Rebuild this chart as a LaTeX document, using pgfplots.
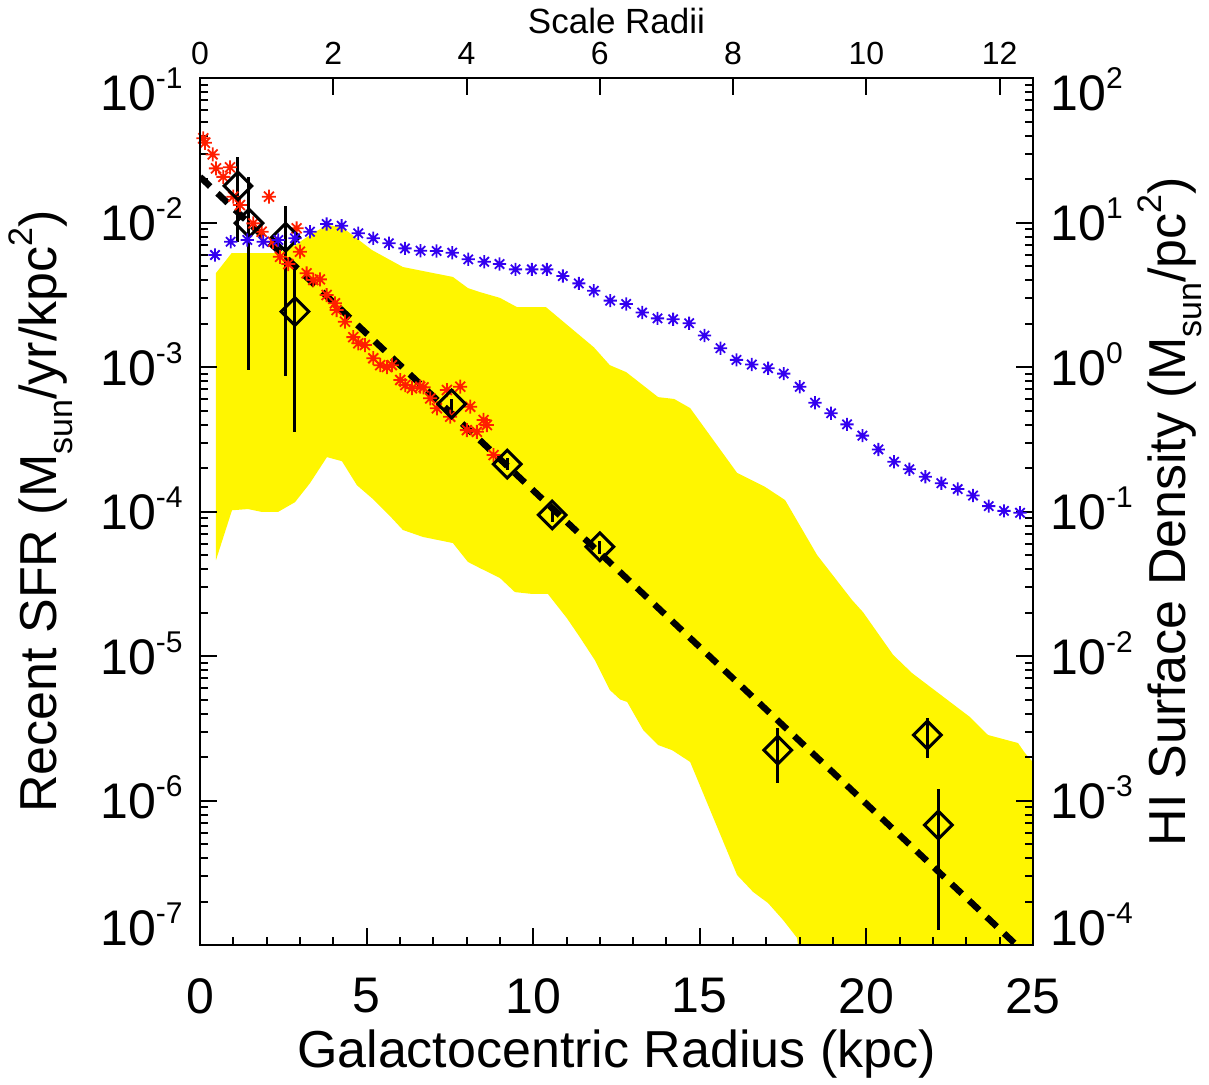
\documentclass[border=0pt]{standalone}
\usepackage{pgfplots}
\pgfplotsset{compat=1.18}
\usepackage{fontspec}
\setmainfont{Liberation Sans}
\definecolor{myred}{RGB}{255,30,0}
\definecolor{myblue}{RGB}{51,0,240}
\definecolor{myyellow}{RGB}{255,246,0}
\pgfdeclareplotmark{ast8}{%
  \pgfpathmoveto{\pgfqpoint{0pt}{\pgfplotmarksize}}\pgfpathlineto{\pgfqpoint{0pt}{-\pgfplotmarksize}}%
  \pgfpathmoveto{\pgfqpoint{\pgfplotmarksize}{0pt}}\pgfpathlineto{\pgfqpoint{-\pgfplotmarksize}{0pt}}%
  \pgfpathmoveto{\pgfqpoint{0.707\pgfplotmarksize}{0.707\pgfplotmarksize}}\pgfpathlineto{\pgfqpoint{-0.707\pgfplotmarksize}{-0.707\pgfplotmarksize}}%
  \pgfpathmoveto{\pgfqpoint{-0.707\pgfplotmarksize}{0.707\pgfplotmarksize}}\pgfpathlineto{\pgfqpoint{0.707\pgfplotmarksize}{-0.707\pgfplotmarksize}}%
  \pgfusepathqstroke}
\newcommand\TE[1]{10\raisebox{11pt}{\fontsize{15}{15}\selectfont #1}}
\newcommand\SUB[1]{\raisebox{-8pt}{\fontsize{17}{17}\selectfont #1}}
\newcommand\SUP[1]{\raisebox{12pt}{\fontsize{17}{17}\selectfont #1}}
\begin{document}
\begin{tikzpicture}
\begin{axis}[width=416.5pt, height=433.5pt, scale only axis,
  xmin=0, xmax=25, ymode=log, ymin=1e-7, ymax=1e-1, axis on top,
  axis line style={line width=1.3pt},
  major tick length=8.5pt, minor tick length=4pt,
  tick style={black, line width=1pt}, tick align=inside,
  /pgf/number format/assume math mode=true,
  xtick pos=bottom, ytick pos=left,
  xtick={0,5,10,15,20,25}, minor x tick num=4,
  xticklabel style={font=\fontsize{25}{25}\selectfont, inner sep=0pt, anchor=north, yshift=-16.5pt},
  ytick={1e-7,1e-6,1e-5,1e-4,1e-3,1e-2,1e-1},
  yticklabels={\raisebox{9pt}{\TE{-7}},\TE{-6},\TE{-5},\TE{-4},\TE{-3},\TE{-2},\raisebox{-7pt}{\TE{-1}}},
  yticklabel style={font=\fontsize{25}{25}\selectfont, anchor=base east, inner sep=0pt, xshift=-8.5pt, yshift=-9pt},
  xlabel={Galactocentric Radius (kpc)},
  xlabel style={font=\fontsize{26}{26}\selectfont, at={(axis description cs:0.5,0)}, anchor=base, yshift=-61pt, inner sep=0pt},
  ylabel={Recent SFR (M\SUB{sun}/yr/kpc\SUP{2})},
  ylabel style={font=\fontsize{26}{26}\selectfont, at={(axis description cs:-0.1717,0.5)}, anchor=base, inner sep=0pt},
]
% yellow band
\addplot[fill=myyellow, draw=none] coordinates {
(0.48,4.47e-3)(0.95,6.15e-3)(2.34,6.15e-3)(2.85,6.98e-3)(3.30,8.18e-3)(3.81,9.62e-3)(4.26,9.31e-3)
(5.16,6.45e-3)(6.09,4.92e-3)(7.59,4.20e-3)(8.04,3.52e-3)(8.40,3.30e-3)(9.00,3.01e-3)(9.51,2.60e-3)
(10.38,2.60e-3)(11.82,1.37e-3)(12.30,1.03e-3)(12.79,9.22e-4)(13.75,6.19e-4)(14.23,6.01e-4)(14.71,5.20e-4)
(16.12,1.85e-4)(16.96,1.48e-4)(17.56,1.20e-4)(18.52,5.00e-5)(19.57,2.44e-5)(19.90,2.01e-5)(20.80,1.02e-5)
(21.37,7.62e-6)(23.11,3.78e-6)(23.65,2.84e-6)(24.55,2.50e-6)(24.76,2.13e-6)(25.12,1.71e-6)
(25.12,5e-8)(18.10,5e-8)
(17.92,1.12e-7)(17.50,1.49e-7)(17.05,1.95e-7)(16.60,2.33e-7)(16.12,3.05e-7)(14.71,1.85e-6)(14.17,2.23e-6)
(13.75,2.42e-6)(13.30,3.08e-6)(12.82,4.81e-6)(12.61,5.0e-6)(12.30,5.82e-6)(11.85,9.37e-6)(11.40,1.35e-5)
(11.01,1.83e-5)(10.44,2.69e-5)(9.96,2.69e-5)(9.45,2.77e-5)(9.00,3.47e-5)(8.40,4.06e-5)(8.04,4.48e-5)
(7.59,6.05e-5)(6.69,6.67e-5)(6.09,7.45e-5)(5.70,9.31e-5)(5.19,1.22e-4)(4.71,1.52e-4)(4.26,2.23e-4)
(3.81,2.38e-4)(3.30,1.57e-4)(2.85,1.16e-4)(2.34,9.93e-5)(1.86,9.93e-5)(1.44,1.04e-4)(0.96,1.02e-4)
(0.48,4.61e-5)
};
% red asterisks
\addplot[only marks, mark=ast8, mark size=3.5pt, color=myred, mark options={line width=0.9pt}] coordinates {
(0.10,3.83e-2)(0.15,3.56e-2)(0.38,2.96e-2)(0.48,2.37e-2)(0.70,2.07e-2)(0.90,2.41e-2)(1.00,1.51e-2)
(1.20,1.32e-2)(1.60,9.86e-3)(1.85,8.63e-3)(2.07,1.51e-2)(2.19,7.36e-3)(2.40,5.79e-3)(2.65,5.16e-3)
(2.90,9.12e-3)(3.00,6.28e-3)(3.20,4.45e-3)(3.40,4.00e-3)(3.60,4.04e-3)(3.80,3.15e-3)(4.05,2.76e-3)
(4.10,2.48e-3)(4.35,2.06e-3)(4.60,1.61e-3)(4.75,1.46e-3)(4.95,1.42e-3)(5.20,1.15e-3)(5.41,1.03e-3)
(5.61,1.00e-3)(5.76,1.03e-3)(6.01,8.13e-4)(6.16,7.50e-4)(6.36,7.13e-4)(6.61,7.31e-4)(6.71,7.23e-4)
(6.91,6.07e-4)(7.11,5.18e-4)(7.41,6.93e-4)(7.51,4.53e-4)(7.81,7.31e-4)(8.01,3.66e-4)(8.11,5.31e-4)
(8.31,3.56e-4)(8.51,4.30e-4)(8.61,3.97e-4)(8.81,2.46e-4)
};
% exponential fit
\addplot[black, line width=3.2pt, dash pattern=on 7pt off 5pt] coordinates {(0,2.07e-2)(25,7.8e-8)};
% diamonds with error bars
\addplot[only marks, black, mark=square, mark size=4.9pt,
  mark options={rotate=45, line width=1.5pt, fill=none},
  error bars/.cd, y dir=both, y explicit, error mark=none,
  error bar style={line width=1.5pt}] coordinates {
(1.14,1.79e-2) += (0,1.05e-2) -= (0,1.06e-2)
(1.47,9.9e-3) += (0,1.08e-2) -= (0,8.95e-3)
(2.57,7.9e-3) += (0,5.2e-3) -= (0,7.03e-3)
(2.85,2.42e-3) += (0,2.83e-3) -= (0,2.065e-3)
(7.55,5.55e-4) += (0,5e-5) -= (0,5e-5)
(9.22,2.13e-4) += (0,2e-5) -= (0,2e-5)
(10.57,9.47e-5) += (0,1e-5) -= (0,1e-5)
(12.0,5.7e-5) += (0,6e-6) -= (0,6e-6)
(17.34,2.23e-6) += (0,9.3e-7) -= (0,9.1e-7)
(21.83,2.84e-6) += (0,8.7e-7) -= (0,8.8e-7)
(22.16,6.76e-7) += (0,5.3e-7) -= (0,5.49e-7)
};
\end{axis}
\begin{axis}[width=416.5pt, height=433.5pt, scale only axis,
  xmin=0, xmax=25, ymode=log, ymin=1e-4, ymax=1e2,
  axis line style={line width=1.3pt},
  major tick length=8.5pt, minor tick length=4pt,
  tick style={black, line width=1pt}, tick align=inside,
  xtick pos=top, ytick pos=right, xticklabel pos=top, yticklabel pos=right,
  xtick={0,4,8,12,16,20,24}, xticklabels={0,2,4,6,8,10,12}, minor x tick num=0,
  xticklabel style={font=\fontsize{16}{16}\selectfont, inner sep=0pt, anchor=south, yshift=6.5pt},
  xlabel={Scale Radii},
  xlabel style={font=\fontsize{17.5}{17.5}\selectfont, at={(axis description cs:0.5,1)}, anchor=base, yshift=22.5pt, inner sep=0pt},
  ytick={1e-4,1e-3,1e-2,1e-1,1e0,1e1,1e2},
  yticklabels={\raisebox{9pt}{\TE{-4}},\TE{-3},\TE{-2},\TE{-1},\TE{0},\TE{1},\raisebox{-7pt}{\TE{2}}},
  yticklabel style={font=\fontsize{25}{25}\selectfont, anchor=base west, inner sep=0pt, xshift=8.5pt, yshift=-9pt},
  ylabel={HI Surface Density (M\SUB{sun}/pc\SUP{2})},
  ylabel style={font=\fontsize{26}{26}\selectfont, at={(axis description cs:1.1825,0.5)}, anchor=base, inner sep=0pt},
]
\addplot[only marks, mark=ast8, mark size=3.3pt, color=myblue, mark options={line width=0.9pt}] coordinates {
(0.45,5.96)(0.92,7.36)(1.42,7.57)(1.90,7.36)(2.35,7.57)(2.85,7.78)(3.30,8.63)(3.80,9.77)(4.25,9.50)
(4.75,8.42)(5.20,7.78)(5.67,7.18)(6.15,6.62)(6.62,6.38)(7.10,6.35)(7.57,6.18)(8.05,5.56)(8.53,5.35)
(8.99,5.16)(9.47,4.74)(9.96,4.74)(10.41,4.74)(10.89,4.26)(11.37,3.79)(11.82,3.37)(12.31,2.88)
(12.79,2.73)(13.27,2.38)(13.73,2.17)(14.20,2.14)(14.68,2.01)(15.14,1.65)(15.62,1.35)(16.10,1.12)
(16.56,1.04)(17.05,0.98)(17.52,0.90)(18.00,0.73)(18.46,0.566)(18.94,0.479)(19.42,0.401)(19.88,0.335)
(20.36,0.269)(20.83,0.221)(21.29,0.196)(21.77,0.174)(22.25,0.157)(22.74,0.143)(23.20,0.129)
(23.67,0.109)(24.13,0.101)(24.61,0.098)
};
\end{axis}
\pgfresetboundingbox
\path[use as bounding box] (-100pt,-69.5pt) rectangle (504.5pt,472.5pt);
\end{tikzpicture}
\end{document}
